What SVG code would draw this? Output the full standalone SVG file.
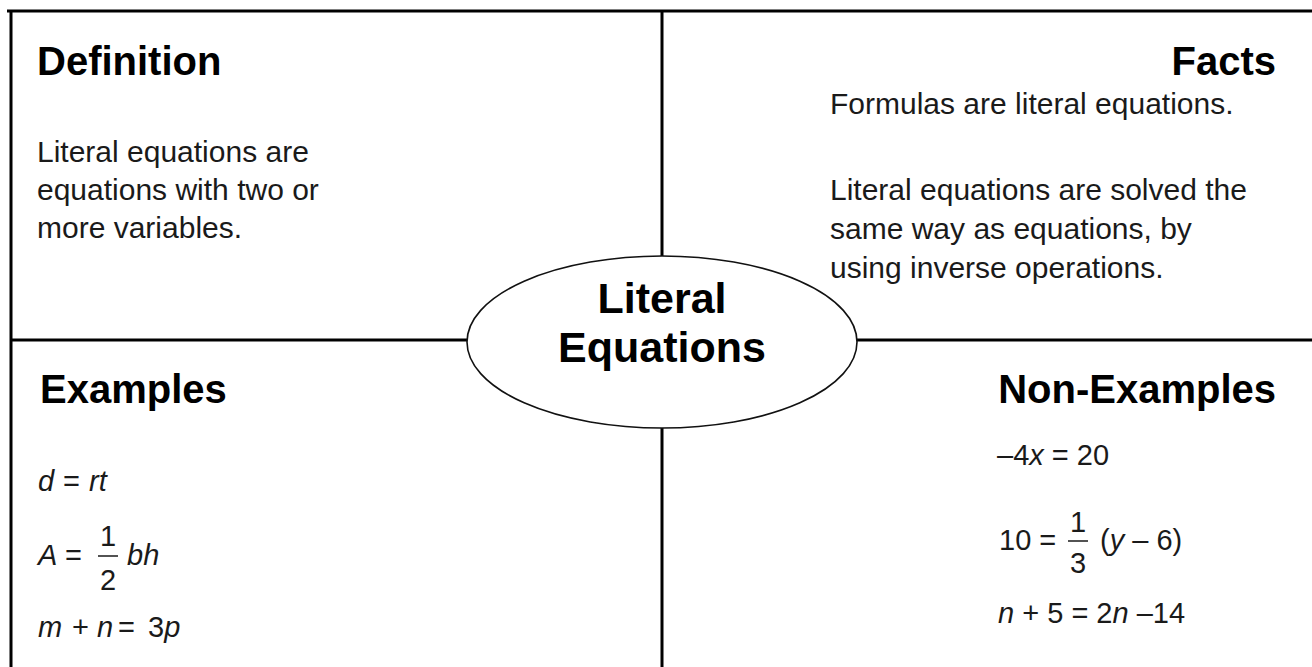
<svg xmlns="http://www.w3.org/2000/svg" width="1312" height="667" viewBox="0 0 1312 667">
<style>
.rule{stroke:#000;stroke-width:3;fill:none}
.head{font-family:"Liberation Sans",Arial,sans-serif;font-weight:bold;font-size:40px;fill:#000}
.body{font-family:"Liberation Sans",Arial,sans-serif;font-size:30px;fill:#1a1a1a}
.math{font-family:"Liberation Sans",Arial,sans-serif;font-size:29px;fill:#1a1a1a}
.it{font-style:italic}
.title{font-family:"Liberation Sans",Arial,sans-serif;font-weight:bold;font-size:43px;fill:#000;text-anchor:middle}
.bar{stroke:#1a1a1a;stroke-width:1.5}
</style>
<rect width="1312" height="667" fill="#fff"/>
<g id="connectors">
<line class="rule" x1="7" y1="11" x2="1312" y2="11"/>
<line class="rule" x1="11" y1="11" x2="11" y2="667"/>
<line class="rule" x1="662" y1="11" x2="662" y2="667"/>
<line class="rule" x1="11" y1="340" x2="1312" y2="340"/>
</g>
<g id="center">
<ellipse cx="662" cy="342" rx="195" ry="86" fill="#fff" stroke="#111" stroke-width="1.6"/>
<text class="title" x="662" y="313">Literal</text>
<text class="title" x="662" y="362">Equations</text>
</g>
<g id="definition">
<text class="head" x="37" y="75">Definition</text>
<text class="body" x="37" y="162">Literal equations are</text>
<text class="body" x="37" y="200">equations with two or</text>
<text class="body" x="37" y="238">more variables.</text>
</g>
<g id="facts">
<text class="head" x="1276" y="75" text-anchor="end">Facts</text>
<text class="body" x="830" y="114">Formulas are literal equations.</text>
<text class="body" x="830" y="200">Literal equations are solved the</text>
<text class="body" x="830" y="239">same way as equations, by</text>
<text class="body" x="830" y="278">using inverse operations.</text>
</g>
<g id="examples">
<text class="head" x="40" y="403">Examples</text>
<text class="math" y="491"><tspan class="it" x="38">d</tspan><tspan x="63">=</tspan><tspan class="it" x="89">rt</tspan></text>
<text class="math" y="565"><tspan class="it" x="38">A</tspan><tspan x="65">=</tspan></text>
<text class="math" x="108" y="546" text-anchor="middle">1</text>
<line class="bar" x1="98" y1="556" x2="118" y2="556"/>
<text class="math" x="108" y="590" text-anchor="middle">2</text>
<text class="math it" x="127" y="565">bh</text>
<text class="math" y="637"><tspan class="it" x="38">m</tspan><tspan x="72">+</tspan><tspan class="it" x="97">n</tspan><tspan x="118">=</tspan><tspan x="148">3</tspan><tspan class="it">p</tspan></text>
</g>
<g id="non-examples">
<text class="head" x="1276" y="403" text-anchor="end">Non-Examples</text>
<text class="math" x="997" y="465">–4<tspan class="it">x</tspan> = 20</text>
<text class="math" x="999" y="550">10 =</text>
<text class="math" x="1078" y="532" text-anchor="middle">1</text>
<line class="bar" x1="1068" y1="541" x2="1088" y2="541"/>
<text class="math" x="1078" y="573" text-anchor="middle">3</text>
<text class="math" x="1100" y="550">(<tspan class="it">y</tspan> – 6)</text>
<text class="math" x="998" y="623"><tspan class="it">n</tspan> + 5 = 2<tspan class="it">n</tspan> –14</text>
</g>
</svg>
